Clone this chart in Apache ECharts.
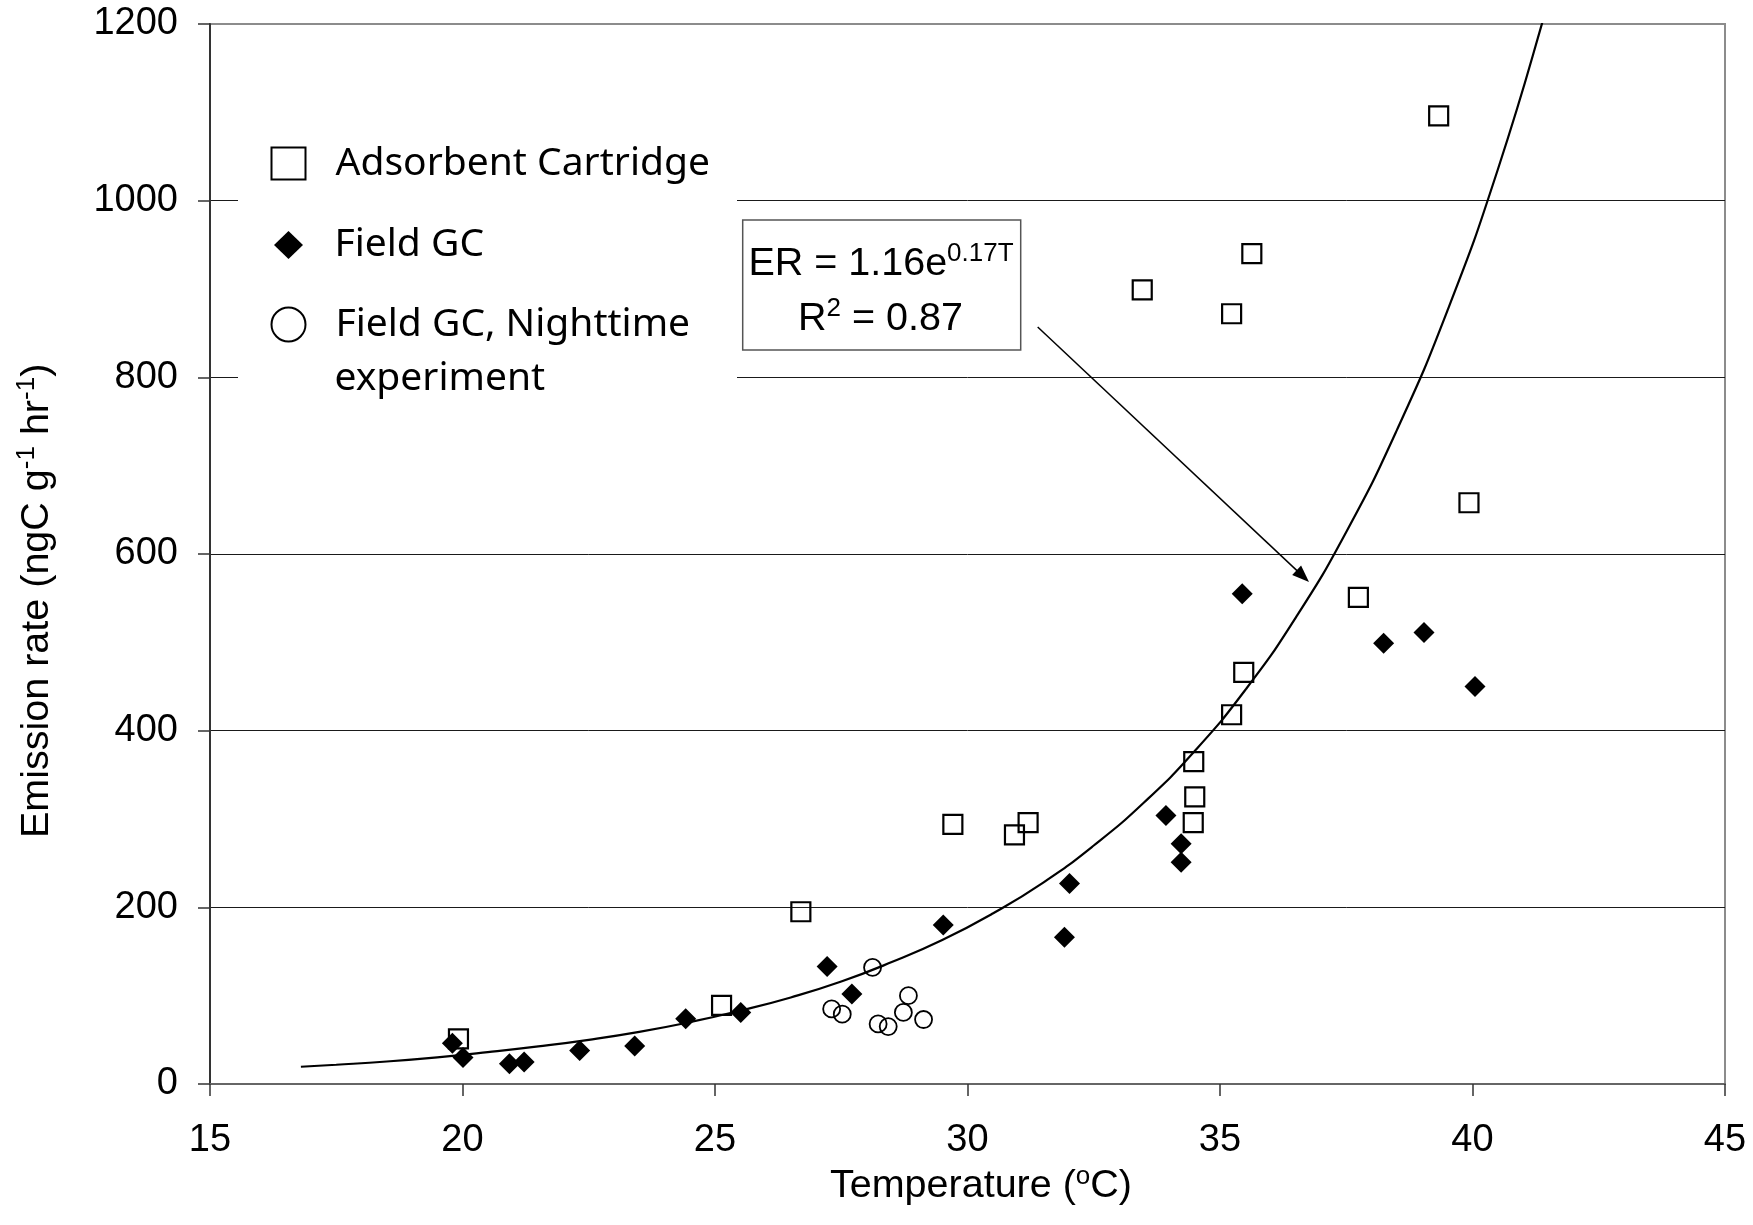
<!DOCTYPE html>
<html>
<head>
<meta charset="utf-8">
<script src="https://cdn.jsdelivr.net/npm/echarts@6/dist/echarts.min.js"></script>
<style>
  html, body { margin: 0; padding: 0; background: #fff; }
  #chart { width: 1753px; height: 1225px; }
</style>
</head>
<body>
<div id="chart"></div>
<script>
// ---- data ----
const xTicks = [15, 20, 25, 30, 35, 40, 45];
const yTicks = [0, 200, 400, 600, 800, 1000, 1200];

const cartridgeName = 'Adsorbent Cartridge';
const cartridgeT  = [19.92, 25.13, 26.70, 29.71, 30.93, 31.20, 33.46, 35.23, 35.63, 35.23, 35.47, 34.48, 34.50, 34.47, 37.74, 39.33, 39.93];
const cartridgeER = [51,    89,    195,   294,   282,   296,   899,   872,   940,   418,   466,   365,   325,   296,   551,   1096,  658];

const fieldName = 'Field GC';
const fieldT  = [19.80, 20.01, 20.93, 21.22, 22.32, 23.41, 24.42, 25.51, 27.22, 27.71, 29.52, 31.92, 32.02, 33.93, 34.23, 34.23, 35.44, 38.24, 39.04, 40.05];
const fieldER = [46,    30,    23,    25,    38,    43,    74,    81,    133,   102,   180,   166,   227,   304,   272,   251,   555,   499,   511,   450];

const nightName = 'Field GC, Nighttime experiment';
const nightLegendLine1 = 'Field GC, Nighttime';
const nightLegendLine2 = 'experiment';
const nightT  = [27.31, 27.52, 28.12, 28.23, 28.43, 28.73, 28.83, 29.13];
const nightER = [85,    79,    132,   68,    65,    81,    100,   73];

// fitted curve, points
const fitName = 'Exponential fit';
const fitT  = [16.8, 17.5, 18.5, 19.5, 20.5, 21.5, 22.5, 23.5, 24.5, 25.5, 26.5, 27.5, 28.5, 29.5, 30.5, 31.5, 32.5, 33.5, 34.5, 35.5, 36.5, 37.5, 38.5, 39.5, 40.5, 41.5, 42];
const fitER = [19.5, 21.8, 25.5, 30.2, 36,   42.5, 50,   59,   70,   83,   98,   116,  138,  163,  193,  228,  270,  319,  377,  446,  528,  625,  740,  875,  1035, 1225, 1330];

// annotation arrow (data coordinates) from the equation box to the curve
const arrowFrom = [31.39, 857];
const arrowTo   = [36.64, 575];

const eqLine1 = '{m|ER = 1.16e}{s|0.17T}';
const eqLine2 = '{m|R}{s2|2}{m| = 0.87}';
const xTitle = '{m|Temperature (}{s|o}{m|C)}';
const yTitle = '{m|Emission rate (ngC g}{s|-1}{m| hr}{s|-1}{m|)}';

// ---- build chart ----
const zip = (a, b) => a.map((v, i) => [v, b[i]]);
const FONT = '"Liberation Sans", Arial, sans-serif';
const LFONT = '"Noto Sans", sans-serif';
const TS = 39.5;   // title / equation font size
const SS = 26;     // superscript font size

const chart = echarts.init(document.getElementById('chart'), null, { renderer: 'canvas' });

const legendText = (pad) => ({ fontFamily: LFONT, fontSize: 39, lineHeight: 40, color: '#000', padding: pad });

const option = {
  animation: false,
  backgroundColor: '#fff',
  grid: { left: 210, right: 28, top: 24, bottom: 141, show: true, borderColor: '#8c8c8c', borderWidth: 2, backgroundColor: 'transparent' },
  xAxis: {
    type: 'value', min: xTicks[0], max: xTicks[xTicks.length - 1], interval: xTicks[1] - xTicks[0],
    axisLine: { show: true, onZero: false, lineStyle: { color: '#666', width: 2 } },
    axisTick: { show: true, inside: false, length: 12, lineStyle: { color: '#333', width: 1.5 } },
    axisLabel: { margin: 38, fontSize: 38, fontFamily: FONT, color: '#000', formatter: (v) => String(v) },
    splitLine: { show: false }
  },
  yAxis: {
    type: 'value', min: yTicks[0], max: yTicks[yTicks.length - 1], interval: yTicks[1] - yTicks[0],
    axisLine: { show: true, lineStyle: { color: '#333', width: 2 } },
    axisTick: { show: true, inside: false, length: 12, lineStyle: { color: '#333', width: 1.5 } },
    axisLabel: { margin: 32, fontSize: 38, fontFamily: FONT, color: '#000', formatter: (v) => String(v) },
    splitLine: { show: true, lineStyle: { color: ['#666', '#1a1a1a', '#1a1a1a', '#1a1a1a', '#1a1a1a', '#1a1a1a', '#8c8c8c'], width: 1 } }
  },
  legend: [
    { data: [cartridgeName], orient: 'vertical', left: 270.5, top: 141, padding: 0, itemWidth: 34, itemHeight: 32, selectedMode: false, textStyle: legendText([5, 0, 0, 25]) },
    { data: [fieldName], orient: 'vertical', left: 274, top: 215, padding: 0, itemWidth: 29, itemHeight: 28, selectedMode: false, textStyle: legendText([20, 0, 0, 26.5]) },
    { data: [nightName], orient: 'vertical', left: 270.5, top: 293, padding: 0, itemWidth: 34, itemHeight: 34, selectedMode: false, formatter: () => nightLegendLine1, textStyle: legendText([23, 0, 0, 25]) }
  ],
  series: [
    {
      name: fitName, type: 'line', data: zip(fitT, fitER), smooth: 0.5, symbol: 'none', clip: true,
      lineStyle: { color: '#000', width: 2.2 }, silent: true,
      markLine: {
        silent: true, animation: false,
        label: { show: false },
        lineStyle: { color: '#000', width: 1.5, type: 'solid' },
        data: [[
          { coord: arrowFrom, symbol: 'none' },
          { coord: arrowTo, symbol: 'triangle', symbolSize: [13, 17] }
        ]]
      }
    },
    {
      name: cartridgeName, type: 'scatter', data: zip(cartridgeT, cartridgeER),
      symbol: 'rect', symbolSize: 19,
      itemStyle: { color: 'rgba(0,0,0,0)', borderColor: '#000', borderWidth: 2.2, opacity: 1 }
    },
    {
      name: fieldName, type: 'scatter', data: zip(fieldT, fieldER),
      symbol: 'diamond', symbolSize: 21,
      itemStyle: { color: '#000', opacity: 1 }
    },
    {
      name: nightName, type: 'scatter', data: zip(nightT, nightER),
      symbol: 'circle', symbolSize: 17,
      itemStyle: { color: 'rgba(0,0,0,0)', borderColor: '#000', borderWidth: 1.8, opacity: 1 }
    }
  ],
  graphic: [
    { type: 'rect', z: 1, silent: true, shape: { x: 238, y: 110, width: 499, height: 300 }, style: { fill: '#fff' } },
    { type: 'text', z: 10, silent: true, x: 334.5, y: 379,
      style: { text: nightLegendLine2, font: '39px ' + LFONT, fill: '#000', align: 'left', verticalAlign: 'middle' } },
    { type: 'rect', z: 5, silent: true, shape: { x: 742.7, y: 220, width: 278, height: 130 }, style: { fill: '#fff', stroke: '#555', lineWidth: 1.5 } },
    { type: 'text', z: 6, silent: true, x: 881, y: 264,
      style: { text: eqLine1, align: 'center', verticalAlign: 'middle', fill: '#000',
        rich: { m: { fontSize: TS, fontFamily: FONT, lineHeight: 46, fill: '#000' },
                s: { fontSize: SS, fontFamily: FONT, lineHeight: 14, verticalAlign: 'top', fill: '#000' } } } },
    { type: 'text', z: 6, silent: true, x: 880.5, y: 319,
      style: { text: eqLine2, align: 'center', verticalAlign: 'middle', fill: '#000',
        rich: { m: { fontSize: TS, fontFamily: FONT, lineHeight: 46, fill: '#000' },
                s2: { fontSize: SS, fontFamily: FONT, lineHeight: 22, verticalAlign: 'top', fill: '#000' } } } },
    { type: 'text', z: 6, silent: true, x: 981, y: 1186.4,
      style: { text: xTitle, align: 'center', verticalAlign: 'middle', fill: '#000',
        rich: { m: { fontSize: TS, fontFamily: FONT, lineHeight: 46, fill: '#000' },
                s: { fontSize: SS, fontFamily: FONT, lineHeight: 20, verticalAlign: 'top', fill: '#000' } } } },
    { type: 'text', z: 6, silent: true, x: 36.7, y: 838, rotation: Math.PI / 2,
      style: { text: yTitle, align: 'left', verticalAlign: 'middle', fill: '#000',
        rich: { m: { fontSize: TS, fontFamily: FONT, lineHeight: 46, fill: '#000' },
                s: { fontSize: SS, fontFamily: FONT, lineHeight: 21, verticalAlign: 'top', fill: '#000' } } } }
  ]
};

chart.setOption(option);
</script>
</body>
</html>
